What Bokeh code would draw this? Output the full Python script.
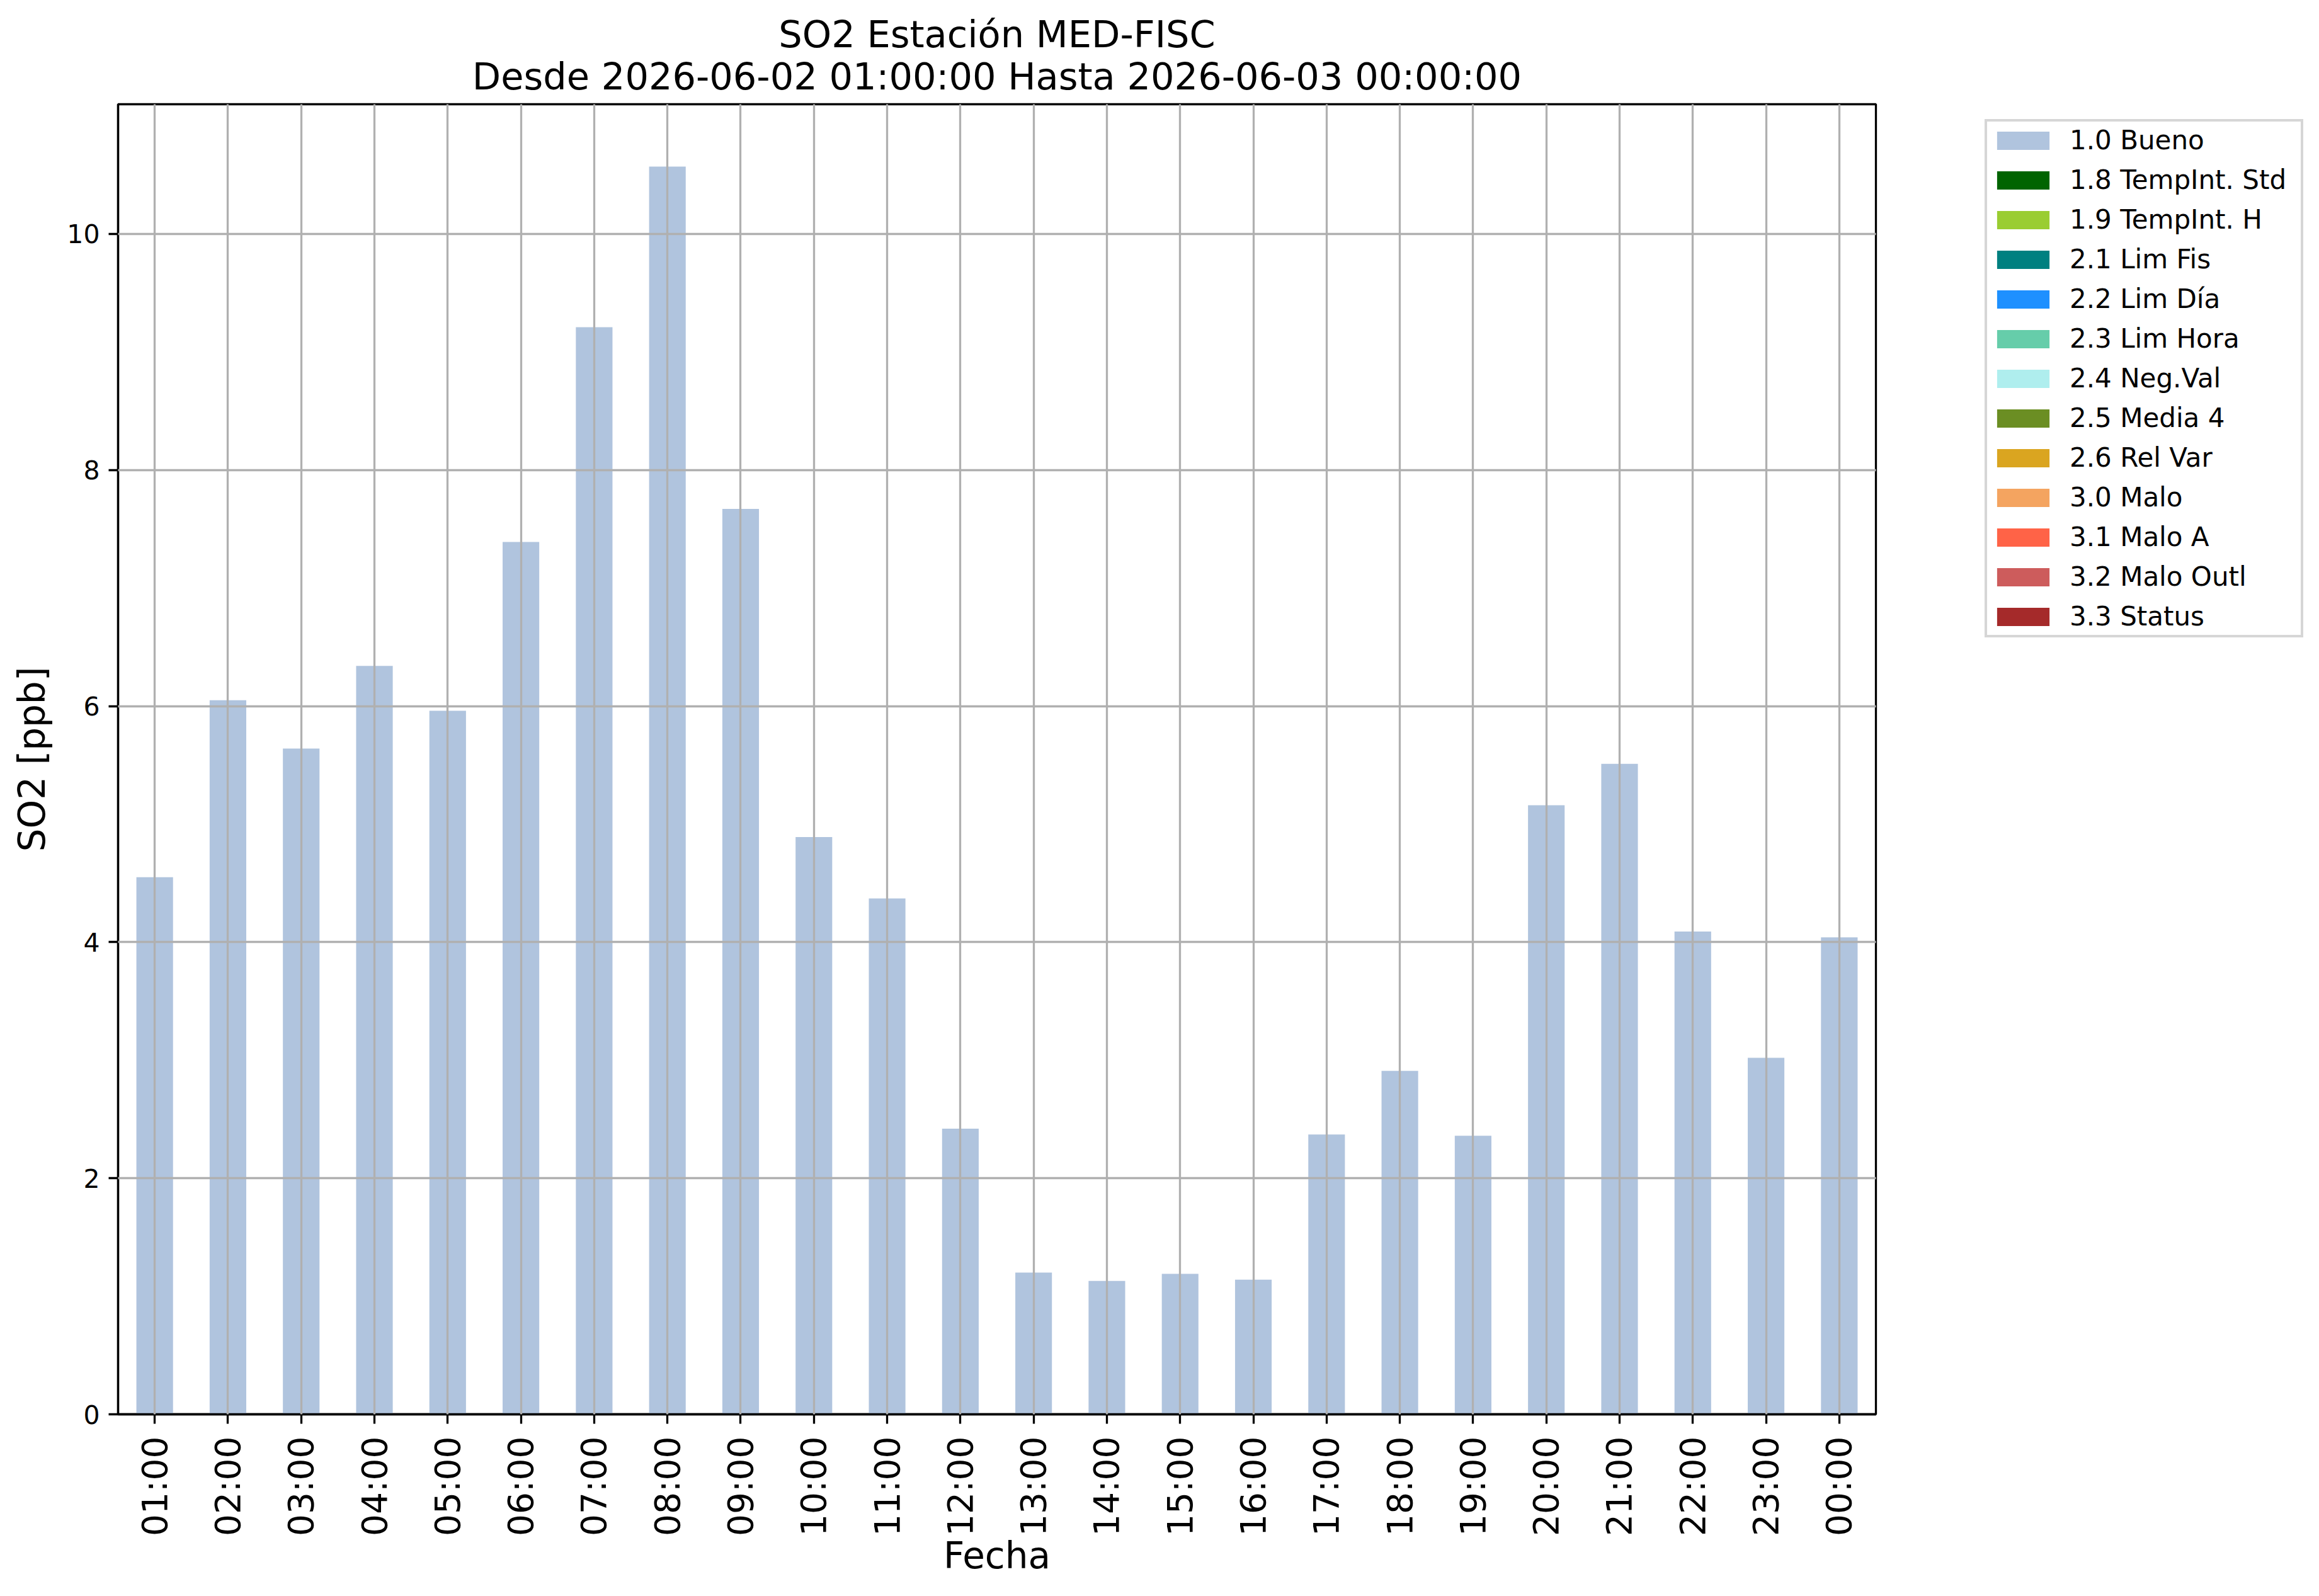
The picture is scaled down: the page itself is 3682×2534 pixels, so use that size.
import math
from bokeh.plotting import figure
from bokeh.models import (ColumnDataSource, Legend, LegendItem, FixedTicker, Range1d,
                          FactorRange, Title)
from bokeh.embed import file_html
from bokeh.resources import INLINE

# ---------------- data ----------------
hours = ["01:00", "02:00", "03:00", "04:00", "05:00", "06:00", "07:00", "08:00",
         "09:00", "10:00", "11:00", "12:00", "13:00", "14:00", "15:00", "16:00",
         "17:00", "18:00", "19:00", "20:00", "21:00", "22:00", "23:00", "00:00"]
so2_bueno = [4.55, 6.05, 5.64, 6.34, 5.96, 7.39, 9.21, 10.57,
             7.67, 4.89, 4.37, 2.42, 1.20, 1.13, 1.19, 1.14,
             2.37, 2.91, 2.36, 5.16, 5.51, 4.09, 3.02, 4.04]
# the other quality flags have no values in this period (missing data)
so2_no_flag = [float("nan")] * len(hours)
flag_labels = ["1.0 Bueno", "1.8 TempInt. Std", "1.9 TempInt. H", "2.1 Lim Fis",
               "2.2 Lim Día", "2.3 Lim Hora", "2.4 Neg.Val", "2.5 Media 4",
               "2.6 Rel Var", "3.0 Malo", "3.1 Malo A", "3.2 Malo Outl", "3.3 Status"]
flag_colors = ["#B0C4DE", "#006400", "#9ACD32", "#008080", "#1E90FF", "#66CDAA",
               "#AFEEEE", "#6B8E23", "#DAA520", "#F4A460", "#FF6347", "#CD5C5C", "#A52A2A"]
y_ticks = [0, 2, 4, 6, 8, 10]
title_line1 = "SO2 Estación MED-FISC"
title_line2 = "Desde 2026-06-02 01:00:00 Hasta 2026-06-03 00:00:00"
x_label = "Fecha"
y_label = "SO2 [ppb]"

FONT = "DejaVu Sans"

p = figure(
    x_range=FactorRange(factors=hours, range_padding=0),
    y_range=Range1d(0, max(so2_bueno) * 1.05),
    frame_width=2791, frame_height=2080,
    min_border_left=187, min_border_top=165,
    min_border_right=680, min_border_bottom=281,
    output_backend="svg", toolbar_location=None,
    background_fill_color="white", border_fill_color="white",
)

src = ColumnDataSource(data=dict(hour=hours, so2=so2_bueno))
renderers = []
r0 = p.vbar(x="hour", top="so2", width=0.5, source=src,
            fill_color=flag_colors[0], line_color=None)
renderers.append(r0)
empty_src = ColumnDataSource(data=dict(hour=hours, so2=so2_no_flag))
for c in flag_colors[1:]:
    r = p.vbar(x="hour", top="so2", width=0.5, source=empty_src,
               fill_color=c, line_color=None)
    renderers.append(r)

# titles (stacked above, second line nearest the frame)
t2 = Title(text=title_line2, align="center", text_font=FONT, text_font_size="59px",
           text_font_style="normal", text_color="black", standoff=20)
t1 = Title(text=title_line1, align="center", text_font=FONT, text_font_size="59px",
           text_font_style="normal", text_color="black", standoff=0)
try:
    t1.standoff = -28
except Exception:
    t1.standoff = 0
p.add_layout(t2, "above")
p.add_layout(t1, "above")

# axes
for ax in (p.xaxis[0], p.yaxis[0]):
    ax.axis_line_color = "black"
    ax.axis_line_width = 3.3
    ax.major_tick_line_color = "black"
    ax.major_tick_line_width = 3.3
    ax.major_tick_out = 15
    ax.major_tick_in = 0
    ax.minor_tick_line_color = None
    ax.major_label_text_font = FONT
    ax.major_label_text_color = "black"
    ax.axis_label_text_font = FONT
    ax.axis_label_text_font_style = "normal"
    ax.axis_label_text_font_size = "58px"
    ax.axis_label_text_color = "black"

p.xaxis.axis_label = x_label
p.yaxis.axis_label = y_label
p.xaxis.major_label_text_font_size = "55px"
p.yaxis.major_label_text_font_size = "41px"
p.xaxis.major_label_orientation = math.pi / 2
p.xaxis.major_label_standoff = 20
p.yaxis.major_label_standoff = 14
p.xaxis.axis_label_standoff = -6
p.yaxis.axis_label_standoff = 18
p.yaxis.ticker = FixedTicker(ticks=y_ticks)

p.outline_line_color = "black"
p.outline_line_width = 3.3
p.outline_line_alpha = 1.0

for g in (p.xgrid[0], p.ygrid[0]):
    g.grid_line_color = "#b0b0b0"
    g.grid_line_width = 3.3
    g.level = "annotation"

legend = Legend(
    items=[LegendItem(label=lab, renderers=[r]) for lab, r in zip(flag_labels, renderers)],
    location=(173, 1233),
    glyph_width=104, glyph_height=36, label_height=36, label_width=362,
    spacing=14, padding=5, margin=0, label_standoff=22,
    label_text_font=FONT, label_text_font_size="42px", label_text_color="black",
    border_line_color="#d6d6d6", border_line_width=4, border_line_alpha=1.0,
    background_fill_color="white", background_fill_alpha=0.8,
)
p.add_layout(legend, "right")

open("out.html", "w").write(file_html(p, INLINE))
